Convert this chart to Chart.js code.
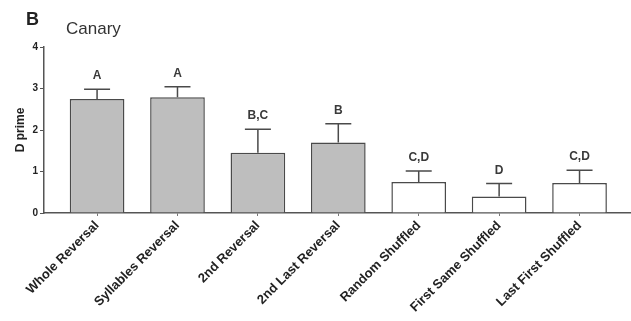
<!DOCTYPE html>
<html>
<head>
<meta charset="utf-8">
<script src="https://cdn.jsdelivr.net/npm/chart.js@4.4.1/dist/chart.umd.min.js"></script>
<style>
  html, body { margin: 0; padding: 0; background: #fff; }
  #wrap { width: 631px; height: 321px; position: relative; }
</style>
</head>
<body>
<div id="wrap"><canvas id="c" width="631" height="321"></canvas></div>
<script>
const categories = ["Whole Reversal", "Syllables Reversal", "2nd Reversal", "2nd Last Reversal", "Random Shuffled", "First Same Shuffled", "Last First Shuffled"];
const dprime = [2.75, 2.79, 1.45, 1.70, 0.75, 0.40, 0.72];
const sem = [0.23, 0.25, 0.57, 0.45, 0.26, 0.31, 0.31];
const groups = ["A", "A", "B,C", "B", "C,D", "D", "C,D"];
const reversalFlags = [true, true, true, true, false, false, false];
const yTicks = [0, 1, 2, 3, 4];

const INK = '#3a3a3a';

const annotations = {
  id: 'annotations',
  afterDatasetsDraw(chart) {
    const ctx = chart.ctx;
    const xs = chart.scales.x, ys = chart.scales.y;
    ctx.save();
    ctx.strokeStyle = '#4a4a4a';
    ctx.lineWidth = 1.5;
    ctx.fillStyle = INK;
    ctx.font = 'bold 12px "Liberation Sans", Arial, sans-serif';
    ctx.textAlign = 'center';
    ctx.textBaseline = 'alphabetic';
    dprime.forEach((v, i) => {
      const x = xs.getPixelForValue(i);
      const yb = ys.getPixelForValue(v);
      const ye = ys.getPixelForValue(v + sem[i]);
      ctx.beginPath();
      ctx.moveTo(x, yb);
      ctx.lineTo(x, ye);
      ctx.moveTo(x - 13, ye);
      ctx.lineTo(x + 13, ye);
      ctx.stroke();
      ctx.fillText(groups[i], x, ye - 10);
    });
    ctx.restore();
  },
  afterDraw(chart) {
    const ctx = chart.ctx;
    ctx.save();
    ctx.fillStyle = '#222';
    ctx.textBaseline = 'alphabetic';
    ctx.textAlign = 'left';
    ctx.font = 'bold 18px "Liberation Sans", Arial, sans-serif';
    ctx.fillText('B', 26, 25);
    ctx.fillStyle = '#333';
    ctx.font = '17px "Liberation Sans", Arial, sans-serif';
    ctx.fillText('Canary', 66, 34);
    ctx.restore();
  }
};

new Chart(document.getElementById('c'), {
  type: 'bar',
  data: {
    datasets: [{
      data: dprime.map((v, i) => ({ x: i, y: v })),
      backgroundColor: reversalFlags.map(f => f ? '#bebebe' : '#ffffff'),
      borderColor: '#4a4a4a',
      borderWidth: 1.5,
      borderSkipped: 'bottom',
      barPercentage: 0.68,
      categoryPercentage: 1
    }]
  },
  options: {
    responsive: false,
    animation: false,
    layout: { padding: { top: 47, right: 0, left: 13, bottom: 0 } },
    plugins: { legend: { display: false }, tooltip: { enabled: false } },
    scales: {
      x: {
        type: 'linear',
        offset: false,
        min: -0.66,
        max: 6.64,
        afterFit: s => { s.height = 108; },
        border: { display: true, color: '#555', width: 1.5 },
        grid: { display: true, offset: false, drawOnChartArea: false, drawTicks: true, tickLength: 3, color: '#777', lineWidth: 1 },
        ticks: {
          stepSize: 1,
          includeBounds: false,
          autoSkip: false,
          minRotation: 45,
          maxRotation: 45,
          padding: 2,
          color: '#222',
          font: { family: '"Liberation Sans", Arial, sans-serif', size: 13, weight: 'bold' },
          callback: v => (Number.isInteger(v) && categories[v] !== undefined) ? categories[v] : ''
        }
      },
      y: {
        min: 0,
        max: 4,
        afterFit: s => { s.width = 31; },
        afterBuildTicks: s => { s.ticks = yTicks.map(v => ({ value: v })); },
        border: { display: true, color: '#555', width: 1.5 },
        grid: { display: true, drawOnChartArea: false, drawTicks: true, tickLength: 4, color: '#555', lineWidth: 1 },
        ticks: {
          padding: 2,
          color: '#222',
          font: { family: '"Liberation Sans", Arial, sans-serif', size: 10, weight: 'bold' }
        },
        title: {
          display: true,
          text: 'D prime',
          color: '#222',
          padding: { top: 0, bottom: 2 },
          font: { family: '"Liberation Sans", Arial, sans-serif', size: 12, weight: 'bold' }
        }
      }
    }
  },
  plugins: [annotations]
});
</script>
</body>
</html>
